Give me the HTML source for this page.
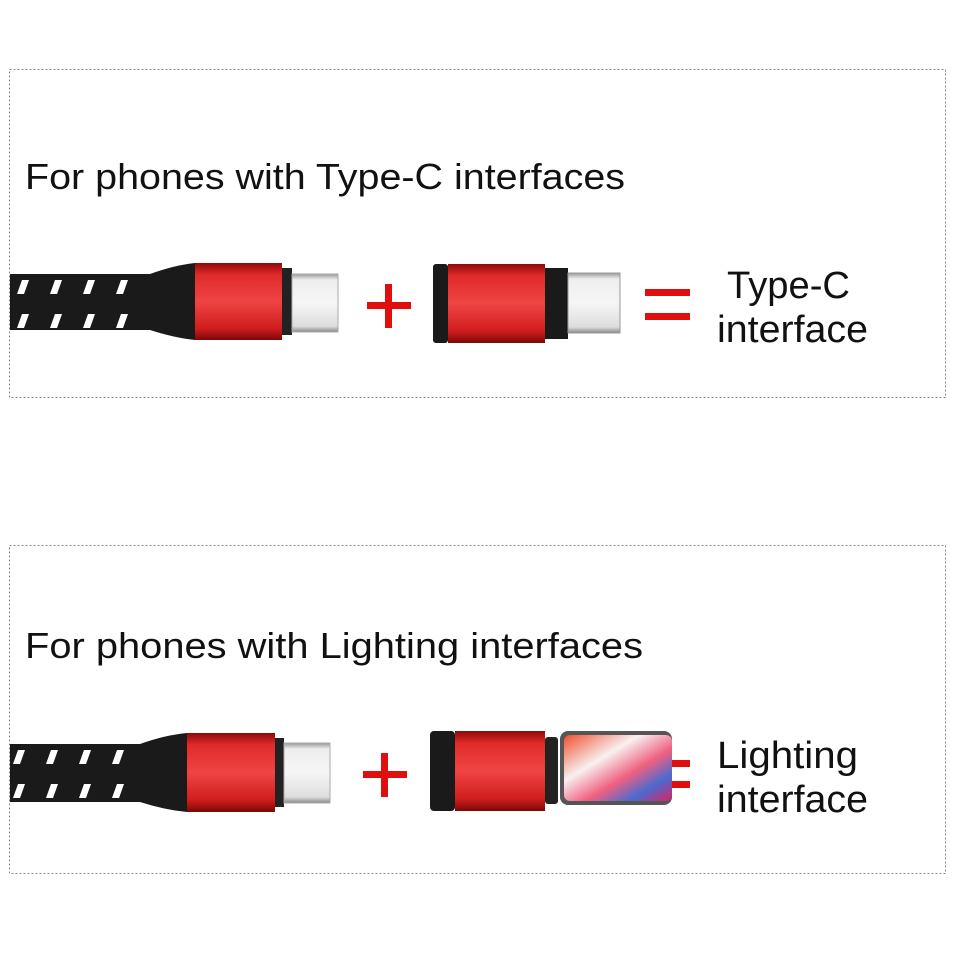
<!DOCTYPE html>
<html><head><style>body{margin:0;background:#fff}svg{display:block}</style></head><body>
<svg width="960" height="960" viewBox="0 0 960 960" xmlns="http://www.w3.org/2000/svg" font-family="Liberation Sans, sans-serif">
<defs>
<linearGradient id="red" x1="0" y1="0" x2="0" y2="1">
<stop offset="0" stop-color="#8e0a0a"/><stop offset="0.15" stop-color="#e02a2a"/><stop offset="0.5" stop-color="#f04444"/><stop offset="0.85" stop-color="#d01d1d"/><stop offset="1" stop-color="#7a0808"/></linearGradient>
<linearGradient id="metal" x1="0" y1="0" x2="0" y2="1">
<stop offset="0" stop-color="#999"/><stop offset="0.1" stop-color="#eee"/><stop offset="0.5" stop-color="#f6f6f6"/><stop offset="0.9" stop-color="#ddd"/><stop offset="1" stop-color="#888"/></linearGradient>
<linearGradient id="screen" x1="0" y1="0" x2="1" y2="1">
<stop offset="0" stop-color="#f05030"/><stop offset="0.35" stop-color="#f8f0f0"/><stop offset="0.6" stop-color="#f06080"/><stop offset="0.8" stop-color="#4a6ad0"/><stop offset="1" stop-color="#e02060"/></linearGradient>
</defs>
<rect x="9.5" y="69.5" width="936" height="328" fill="none" stroke="#888" stroke-dasharray="2,2"/>
<rect x="9.5" y="545.5" width="936" height="328" fill="none" stroke="#888" stroke-dasharray="2,2"/>
<text x="25" y="189" font-size="36" textLength="600" lengthAdjust="spacingAndGlyphs" fill="#111">For phones with Type-C interfaces</text>
<text x="25" y="658" font-size="36" textLength="618" lengthAdjust="spacingAndGlyphs" fill="#111">For phones with Lighting interfaces</text>

<g>
<path d="M10 274 L150 274 Q175 265 195 263 L195 340 Q175 338 150 330 L10 330 Z" fill="#1a1a1a"/>
<g fill="#fff"><path d="M22 280l7 0-5 14-7 0z"/><path d="M55 280l7 0-5 14-7 0z"/><path d="M88 280l7 0-5 14-7 0z"/><path d="M121 280l7 0-5 14-7 0z"/>
<path d="M22 314l7 0-5 14-7 0z"/><path d="M55 314l7 0-5 14-7 0z"/><path d="M88 314l7 0-5 14-7 0z"/><path d="M121 314l7 0-5 14-7 0z"/></g>
<rect x="195" y="263" width="87" height="77" fill="url(#red)"/>
<rect x="282" y="268" width="10" height="67" fill="#222"/>
<rect x="292" y="274" width="46" height="58" fill="url(#metal)" stroke="#aaa"/>
<rect x="433" y="264" width="15" height="79" rx="3" fill="#1a1a1a"/>
<rect x="448" y="264" width="97" height="79" fill="url(#red)"/>
<rect x="545" y="268" width="23" height="71" fill="#1a1a1a"/>
<rect x="568" y="273" width="52" height="60" fill="url(#metal)" stroke="#999"/>
</g>
<g fill="#e10e0e"><rect x="367" y="302" width="44" height="7"/><rect x="385" y="284" width="7" height="44"/>
<rect x="645" y="289" width="45" height="7"/><rect x="645" y="313" width="45" height="7"/></g>
<text x="727" y="298" font-size="38" textLength="123" lengthAdjust="spacingAndGlyphs" fill="#111">Type-C</text>
<text x="717" y="342" font-size="38" textLength="151" lengthAdjust="spacingAndGlyphs" fill="#111">interface</text>

<g>
<path d="M10 744 L140 744 Q165 735 187 733 L187 812 Q165 810 140 802 L10 802 Z" fill="#1a1a1a"/>
<g fill="#fff"><path d="M18 750l7 0-5 14-7 0z"/><path d="M51 750l7 0-5 14-7 0z"/><path d="M84 750l7 0-5 14-7 0z"/><path d="M117 750l7 0-5 14-7 0z"/>
<path d="M18 784l7 0-5 14-7 0z"/><path d="M51 784l7 0-5 14-7 0z"/><path d="M84 784l7 0-5 14-7 0z"/><path d="M117 784l7 0-5 14-7 0z"/></g>
<rect x="187" y="733" width="88" height="79" fill="url(#red)"/>
<rect x="275" y="738" width="9" height="69" fill="#222"/>
<rect x="284" y="743" width="46" height="60" fill="url(#metal)" stroke="#aaa"/>
<rect x="430" y="731" width="25" height="80" rx="4" fill="#1a1a1a"/>
<rect x="455" y="731" width="90" height="80" fill="url(#red)"/>
<rect x="545" y="737" width="13" height="67" rx="3" fill="#222"/>
<rect x="560" y="731" width="112" height="74" rx="8" fill="#555"/>
<rect x="564" y="735" width="108" height="66" rx="6" fill="url(#screen)"/>
</g>
<g fill="#e10e0e"><rect x="363" y="771" width="44" height="7"/><rect x="381" y="753" width="7" height="44"/>
<rect x="672" y="760" width="18" height="7"/><rect x="672" y="781" width="18" height="7"/></g>
<text x="717" y="768" font-size="38" textLength="141" lengthAdjust="spacingAndGlyphs" fill="#111">Lighting</text>
<text x="717" y="812" font-size="38" textLength="151" lengthAdjust="spacingAndGlyphs" fill="#111">interface</text>
</svg>
</body></html>
